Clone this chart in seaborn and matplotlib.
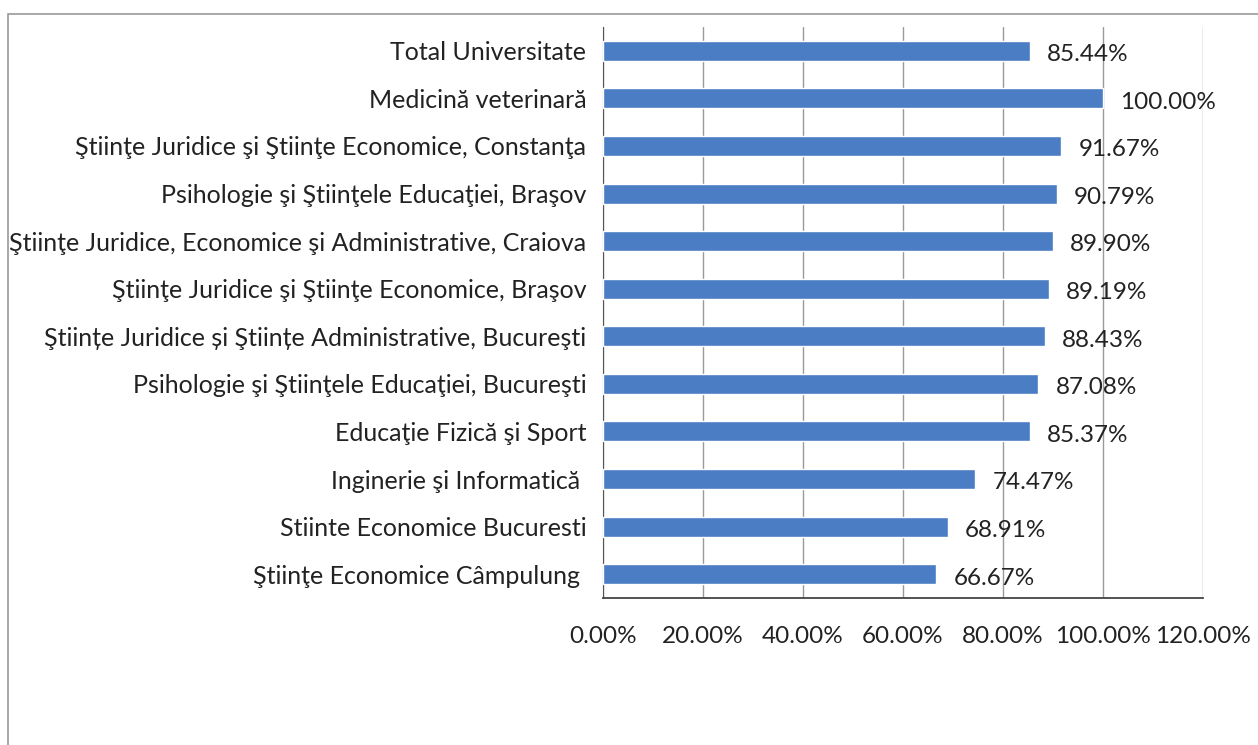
import pandas as pd
import numpy as np
import matplotlib
matplotlib.use("Agg")
import matplotlib.pyplot as plt
import seaborn as sns
from matplotlib.ticker import FuncFormatter, FixedLocator
from matplotlib.patches import Rectangle

# date din grafic
facultati = [
    "Total Universitate",
    "Medicină veterinară",
    "Ştiinţe Juridice şi Ştiinţe Economice, Constanţa",
    "Psihologie şi Ştiinţele Educaţiei, Braşov",
    "Ştiinţe Juridice, Economice şi Administrative, Craiova",
    "Ştiinţe Juridice şi Ştiinţe Economice, Braşov",
    "Ştiințe Juridice și Ştiințe Administrative, Bucureşti",
    "Psihologie şi Ştiinţele Educaţiei, Bucureşti",
    "Educaţie Fizică şi Sport",
    "Inginerie şi Informatică ",
    "Stiinte Economice Bucuresti",
    "Ştiinţe Economice Câmpulung ",
]
procente = [85.44, 100.00, 91.67, 90.79, 89.90, 89.19, 88.43, 87.08, 85.37, 74.47, 68.91, 66.67]

df = pd.DataFrame({"facultate": facultati, "procent": procente})

sns.set_style("white")
plt.rcParams['font.family'] = ['Lato', 'DejaVu Sans']

fig = plt.figure(figsize=(12.58, 7.45), dpi=100)
ax = fig.add_axes([603 / 1258, 1 - 598 / 745, 600 / 1258, 571 / 745])

sns.barplot(data=df, y="facultate", x="procent", orient="h", color="#4A7DC4",
            width=0.42, saturation=1, ax=ax, zorder=3)

ax.set_xlim(0, 120)
ax.set_xticks(np.arange(0, 121, 20))
ax.xaxis.set_major_formatter(FuncFormatter(lambda v, p: f"{v:.2f}%"))
ax.grid(axis="x", color="#999999", linewidth=1, zorder=0)
ax.set_xlabel("")
ax.set_ylabel("")

for i, v in enumerate(procente):
    ax.text(v + 3.4, i + 0.08, f"{v:.2f}%", va="center", ha="left", fontsize=17.5, color="#222222")

for s in ["top", "right"]:
    ax.spines[s].set_visible(False)
ax.spines["left"].set_color("#555555")
ax.spines["bottom"].set_color("#444444")
ax.spines["bottom"].set_linewidth(1.3)

ax.tick_params(axis="y", length=0, labelsize=18, pad=12, colors="#222222")
ax.yaxis.set_minor_locator(FixedLocator(np.arange(-0.5, len(facultati), 1)))
ax.tick_params(axis="y", which="minor", length=5, color="#555555", direction="out")
ax.tick_params(axis="x", length=6, direction="out", labelsize=17.5, pad=14)
ax.tick_params(axis="x", colors="#888888", labelcolor="#222222")

# chenarul graficului
fig.patches.append(Rectangle((8 / 1258, -0.01), 1.1, 1 - 14 / 745 + 0.01, transform=fig.transFigure,
                             fill=False, edgecolor="#999999", linewidth=1.2))

fig.savefig("out.png", dpi=100)
